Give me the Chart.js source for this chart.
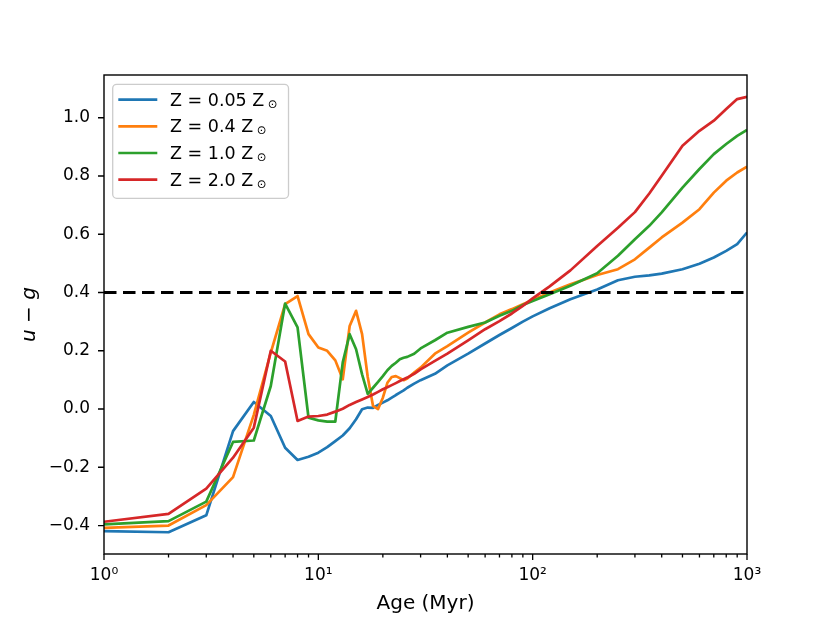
<!DOCTYPE html>
<html>
<head>
<meta charset="utf-8">
<script src="https://cdn.jsdelivr.net/npm/chart.js@4/dist/chart.umd.min.js"></script>
<style>
  html, body { margin: 0; padding: 0; background: #ffffff; }
  #wrap { width: 830px; height: 623px; }
</style>
</head>
<body>
<div id="wrap"><canvas id="c" width="830" height="623"></canvas></div>
<script>
// ---- data ----
const ages = [1,2,3,4,5,6,7,8,9,10,11,12,13,14,15,16,17,18,19,20,21,22,23,24,25,26,28,30,35,40,50,60,70,80,90,100,120,150,200,250,300,350,400,500,600,700,800,900,1000];

const z005 = [-0.419,-0.423,-0.365,-0.076,0.024,-0.024,-0.133,-0.175,-0.164,-0.150,-0.131,-0.110,-0.091,-0.066,-0.035,-0.001,0.005,0.004,0.014,0.022,0.030,0.039,0.048,0.056,0.064,0.073,0.087,0.099,0.121,0.150,0.190,0.225,0.254,0.278,0.300,0.318,0.346,0.377,0.410,0.442,0.454,0.459,0.465,0.480,0.499,0.520,0.543,0.566,0.606];

const z04 = [-0.408,-0.400,-0.330,-0.234,-0.020,0.194,0.360,0.388,0.257,0.211,0.200,0.167,0.102,0.285,0.337,0.257,0.110,0.010,0.000,0.039,0.090,0.110,0.113,0.106,0.099,0.105,0.125,0.142,0.190,0.216,0.262,0.297,0.325,0.343,0.360,0.374,0.400,0.428,0.460,0.480,0.514,0.554,0.589,0.640,0.686,0.743,0.784,0.812,0.832];

const z10 = [-0.396,-0.385,-0.318,-0.113,-0.108,0.079,0.362,0.280,-0.030,-0.039,-0.043,-0.043,0.160,0.257,0.205,0.119,0.052,0.073,0.093,0.113,0.133,0.148,0.159,0.171,0.176,0.179,0.190,0.208,0.236,0.262,0.282,0.297,0.320,0.337,0.357,0.371,0.394,0.423,0.466,0.526,0.583,0.629,0.675,0.760,0.824,0.875,0.910,0.938,0.958];

const z20 = [-0.387,-0.360,-0.273,-0.167,-0.064,0.200,0.163,-0.041,-0.026,-0.024,-0.019,-0.009,0.001,0.014,0.024,0.033,0.041,0.050,0.059,0.068,0.075,0.082,0.089,0.096,0.102,0.108,0.121,0.136,0.165,0.190,0.236,0.274,0.302,0.328,0.354,0.380,0.421,0.476,0.560,0.622,0.676,0.740,0.801,0.904,0.955,0.990,1.030,1.064,1.072];

const seriesNames = ['Z = 0.05 Z\u2299', 'Z = 0.4 Z\u2299', 'Z = 1.0 Z\u2299', 'Z = 2.0 Z\u2299'];
const seriesColors = ['#1f77b4', '#ff7f0e', '#2ca02c', '#d62728'];
const seriesValues = [z005, z04, z10, z20];

const xTicks = [1, 10, 100, 1000];
const xTickLabels = ['10\u2070', '10\u00B9', '10\u00B2', '10\u00B3'];
const yTicks = [-0.4, -0.2, 0.0, 0.2, 0.4, 0.6, 0.8, 1.0];
const thresholdValue = 0.4;

// ---- build datasets ----
const toPoints = vals => ages.map((a, i) => ({ x: a, y: vals[i] }));
const datasets = seriesValues.map((vals, i) => ({
  label: seriesNames[i],
  data: toPoints(vals),
  borderColor: seriesColors[i],
  backgroundColor: seriesColors[i],
  borderWidth: 2.7,
  pointRadius: 0,
  tension: 0,
  fill: false,
  clip: 0,
  borderJoinStyle: 'round',
  order: 4 - i,
  inLegend: true
}));
datasets.push({
  label: 'threshold',
  data: [{ x: xTicks[0], y: thresholdValue }, { x: xTicks[xTicks.length - 1], y: thresholdValue }],
  borderColor: '#000000',
  borderWidth: 3.2,
  borderDash: [12.5, 6.5],
  borderCapStyle: 'butt',
  pointRadius: 0,
  fill: false,
  clip: 0,
  order: 0,
  inLegend: false
});

const allVals = seriesValues.flat();
const dMin = Math.min(...allVals), dMax = Math.max(...allVals);
const yMargin = 0.05 * (dMax - dMin);

const FONT = '"DejaVu Sans", "Liberation Sans", sans-serif';

// ---- frame + ticks (matplotlib style) ----
const framePlugin = {
  id: 'mplFrame',
  afterDatasetsDraw(chart) {
    const ctx = chart.ctx, ca = chart.chartArea;
    const xs = chart.scales.x, ys = chart.scales.y;
    ctx.save();
    ctx.strokeStyle = '#000';
    ctx.lineWidth = 1.4;
    ctx.strokeRect(ca.left, ca.top, ca.right - ca.left, ca.bottom - ca.top);
    ctx.lineWidth = 1.3;
    ctx.beginPath();
    for (let d = 0; d < xTicks.length; d++) {
      const base = xTicks[d];
      const px = xs.getPixelForValue(base);
      ctx.moveTo(px, ca.bottom); ctx.lineTo(px, ca.bottom + 6);
      if (d < xTicks.length - 1) {
        for (let m = 2; m <= 9; m++) {
          const p = xs.getPixelForValue(base * m);
          ctx.moveTo(p, ca.bottom); ctx.lineTo(p, ca.bottom + 3.5);
        }
      }
    }
    yTicks.forEach(v => {
      const py = ys.getPixelForValue(v);
      ctx.moveTo(ca.left, py); ctx.lineTo(ca.left - 6, py);
    });
    ctx.stroke();
    ctx.restore();
  }
};

// ---- legend (matplotlib style, inside the axes) ----
const legendPlugin = {
  id: 'mplLegend',
  afterDraw(chart) {
    const ctx = chart.ctx, ca = chart.chartArea;
    const fs = 17.5;
    const mainFont = fs + 'px ' + FONT;
    const subFont = (fs * 0.66).toFixed(1) + 'px ' + FONT;
    const items = chart.data.datasets.filter(d => d.inLegend);
    ctx.save();
    let maxW = 0;
    items.forEach(d => {
      ctx.font = mainFont;
      let w = ctx.measureText(d.label.slice(0, -1)).width;
      ctx.font = subFont;
      w += 3.5 + ctx.measureText(d.label.slice(-1)).width;
      maxW = Math.max(maxW, w);
    });
    const bx = ca.left + 8.7, by = ca.top + 9.3;
    const bw = 57.3 + maxW + 11, bh = 114;
    ctx.beginPath();
    ctx.roundRect(bx, by, bw, bh, 4);
    ctx.fillStyle = 'rgba(255,255,255,0.8)';
    ctx.fill();
    ctx.strokeStyle = '#cccccc';
    ctx.lineWidth = 1.3;
    ctx.stroke();
    items.forEach((d, i) => {
      const cy = by + 15.3 + i * 26.7;
      ctx.beginPath();
      ctx.moveTo(bx + 5.6, cy);
      ctx.lineTo(bx + 44.6, cy);
      ctx.strokeStyle = d.borderColor;
      ctx.lineWidth = 2.7;
      ctx.lineCap = 'butt';
      ctx.stroke();
      ctx.fillStyle = '#000';
      ctx.textAlign = 'left';
      ctx.textBaseline = 'alphabetic';
      ctx.font = mainFont;
      const main = d.label.slice(0, -1);
      ctx.fillText(main, bx + 57.3, cy + 6.1);
      const w = ctx.measureText(main).width;
      ctx.font = subFont;
      ctx.fillText(d.label.slice(-1), bx + 57.3 + w + 3.5, cy + 8);
    });
    ctx.restore();
  }
};

new Chart(document.getElementById('c'), {
  type: 'line',
  data: { datasets },
  options: {
    responsive: false,
    animation: false,
    devicePixelRatio: 1,
    layout: { padding: { left: 0, right: 83, top: 75, bottom: 0 } },
    plugins: {
      legend: { display: false },
      tooltip: { enabled: false },
      title: { display: false }
    },
    scales: {
      x: {
        type: 'logarithmic',
        min: xTicks[0],
        max: xTicks[xTicks.length - 1],
        afterBuildTicks: s => { s.ticks = xTicks.map(v => ({ value: v, major: true })); },
        afterFit: s => { s.height = 69; },
        grid: { display: false, drawTicks: false },
        border: { display: false },
        ticks: {
          autoSkip: false,
          maxRotation: 0,
          padding: 11,
          color: '#000',
          font: { family: FONT, size: 17 },
          callback: (v) => { const k = xTicks.indexOf(Number(v)); return k >= 0 ? xTickLabels[k] : ''; }
        },
        title: {
          display: true,
          text: 'Age (Myr)',
          color: '#000',
          font: { family: FONT, size: 20 },
          padding: { top: 0, bottom: 7 }
        }
      },
      y: {
        type: 'linear',
        min: dMin - yMargin,
        max: dMax + yMargin,
        afterBuildTicks: s => { s.ticks = yTicks.map(v => ({ value: v })); },
        afterFit: s => { s.width = 104; },
        grid: { display: false, drawTicks: false },
        border: { display: false },
        ticks: {
          padding: 14,
          color: '#000',
          font: { family: FONT, size: 17 },
          callback: (v) => Number(v).toFixed(1).replace('-', '\u2212')
        },
        title: {
          display: true,
          text: 'u \u2212 g',
          color: '#000',
          font: { family: FONT, size: 20, style: 'italic' },
          padding: { top: 18, bottom: 0 }
        }
      }
    }
  },
  plugins: [framePlugin, legendPlugin]
});
</script>
</body>
</html>
